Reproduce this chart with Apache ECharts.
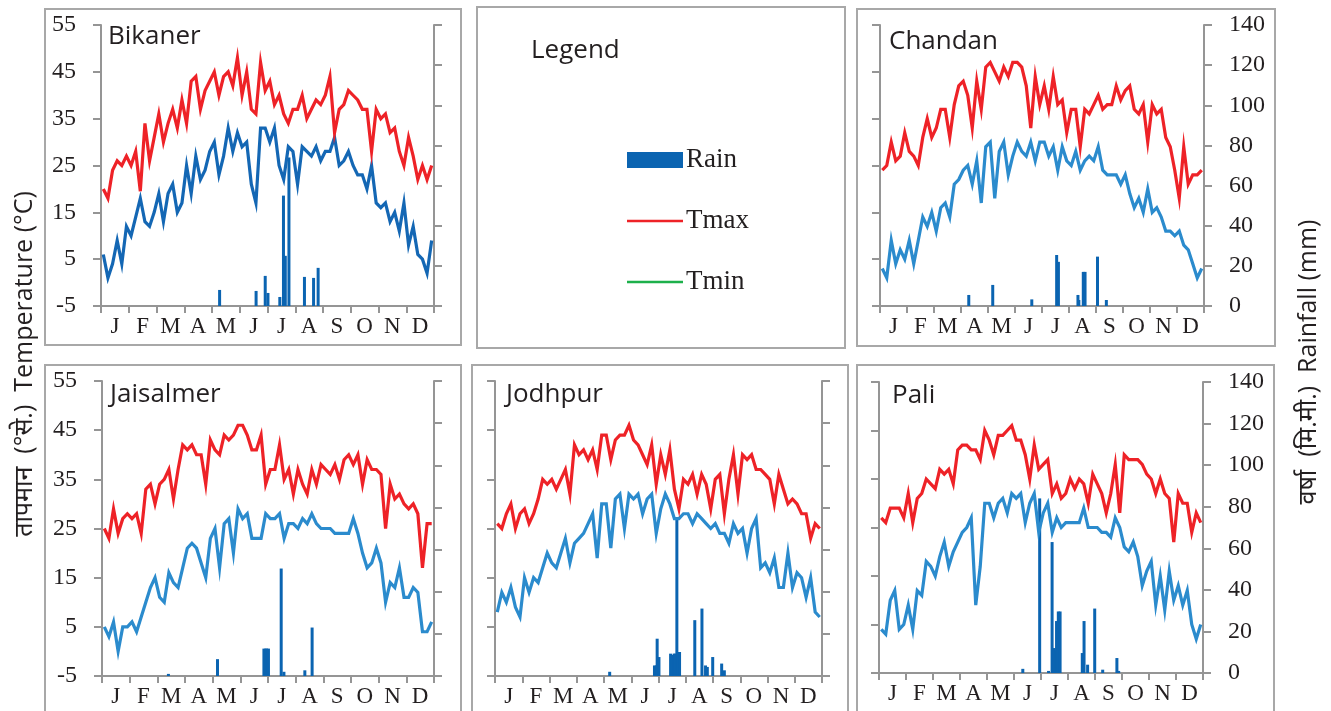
<!DOCTYPE html>
<html><head><meta charset="utf-8">
<script src="https://cdn.jsdelivr.net/npm/echarts@6/dist/echarts.min.js"></script>
<style>html,body{margin:0;padding:0;background:#fff}#c{width:1331px;height:711px}</style>
</head><body><div id="c"></div>
<script>
// ---------- data ----------
const months = ['J','F','M','A','M','J','J','A','S','O','N','D'];
const tempTicks = [-5, 5, 15, 25, 35, 45, 55];
const rainTicks = [0, 20, 40, 60, 80, 100, 120, 140];
const daysInYear = 365;

// temperatures: 6 readings per month (°C)
const bikanerTmax = [20,18,24,26,25,27, 25,28,19.5,34,26,31, 36,30,34,37,33,39, 34,43,44,37,41,43, 45,40,44,45,42,48, 40,45,37,36,47,41, 43,38,40,36,34,37, 37,40,35,37,39,38, 40,44,32,37,38,41, 40,39,37,37,28,37, 35,36,32,33,28,25, 31,27,22,25,22,25];
const bikanerTmin = [6,1,4,9,4,12, 10,14,18,13,12,15, 19,13,19,21,15,17, 25,19,27,22,24,28, 30,23,27,33,28,32, 29,30,21,17,33,33, 30,33,25,22,29,28, 21,29,28,27,29,26, 28,28,31,25,26,28, 25,23,23,20,25,17, 16,17,13,15,11,17, 8,12,6,5,2,9];
const chandanTmax = [24,25,30,26,27,32, 28,27,25,31,35,31, 33,37,37,31,38,42, 43,40,33,43,37,46, 47,45,43,46,44,47, 47,46,42,33,44,38, 42,37,44,38,39,32, 37,37,29,37,36,38, 40,37,38,38,42,39, 41,42,37,36,38,30, 38,36,37,31,29,24, 18,29,21,23,23,24];
const chandanTmin = [3,1,9,4,7,5, 9,4,9,14,12,15, 11,16,17,14,21,22, 24,25,21,26,17,29, 30,18,28,30,23,27, 30,28,27,30,26,30, 30,27,29,24,29,26, 25,28,24,26,27,26, 29,24,23,23,23,21, 23,19,16,18,15,20, 15,16,14,11,11,10, 11,8,7,4,1,3];
const jaisalmerTmax = [25,23,29,24,27,28, 27,28,24,33,34,30, 34,35,37,31,37,42, 41,42,40,40,34,43, 41,40,44,43,44,46, 46,44,41,41,44,34, 37,37,42,35,37,32, 37,34,32,37,34,38, 37,36,38,35,39,40, 38,40,34,39,37,37, 36,25,34,31,32,30, 29,30,28,17,26,26];
const jaisalmerTmin = [5,3,6,0,5,5, 6,4,7,10,13,15, 11,10,16,14,13,17, 21,22,21,18,15,23, 25,17,26,27,20,29, 27,28,23,23,23,28, 27,27,28,23,26,26, 25,27,26,28,26,25, 25,25,24,24,24,24, 27,24,20,17,18,21, 18,10,14,13,17,11, 11,13,12,4,4,6];
const jodhpurTmax = [26,25,28,30,25,28, 29,26,28,31,35,34, 35,33,35,37,32,42, 40,41,39,41,37,44, 44,39,43,44,44,46, 43,42,40,38,42,34, 40,36,41,33,29,35, 34,36,32,36,34,29, 35,36,28,35,40,32, 40,39,40,37,37,36, 35,30,36,33,30,31, 30,28,28,23,26,25];
const jodhpurTmin = [8,12,10,13,9,7, 15,12,15,14,17,20, 18,17,20,23,18,22, 23,24,26,28,19,30, 30,21,31,32,25,32, 31,32,28,31,32,24, 29,32,30,27,27,28, 28,26,28,27,26,25, 26,24,24,22,26,24, 25,20,25,27,17,18, 16,19,13,13,20,13, 16,15,11,15,8,7];
const paliTmax = [27,26,29,29,29,27, 32,26,31,32,35,34, 33,37,36,37,34,41, 42,42,41,41,39,45, 43,40,44,44,45,46, 43,43,40,35,42,37, 38,39,32,34,31,32, 35,33,35,34,30,36, 34,32,28,32,38,28, 40,39,39,39,38,36, 35,32,35,32,31,22, 32,30,30,24,28,26];
const paliTmin = [4,3,10,12,4,5, 9,4,12,11,18,17, 15,19,22,17,20,22, 24,25,27,9,17,30, 30,27,30,31,28,32, 31,32,26,30,32,24, 28,30,24,27,25,26, 26,26,26,29,25,25, 25,24,24,23,27,25, 21,20,22,19,13,16, 18,9,15,8,16,10, 13,9,12,5,2,5];

// rainfall: day of year and amount (mm)
const bikanerRainDay = [130,170,180,183,196,200,202,206,223,233,238];
const bikanerRainMm  = [8,7.5,15,6.5,4.5,55,25,74,14.5,14,19];
const chandanRainDay = [100,127,171,199,201,223,224,229,231,245,255];
const chandanRainMm  = [5.5,10.5,3.3,25.4,22,5.5,3,17,17,24.6,3];
const jaisalmerRainDay = [73,127,178,180,181,183,197,200,223,231];
const jaisalmerRainMm  = [1,8,13,13,13,13,51,2,2.7,23];
const jodhpurRainDay = [128,178,180,181,183,196,198,200,201,203,204,206,223,231,235,237,243,253,256];
const jodhpurRainMm  = [2,5,5,17.7,9,10.6,10,10.6,10.6,75,11.4,11.4,26.5,32,5,4.3,9,5.9,2.7];
const paliRainDay = [162,181,191,195,197,199,200,202,204,229,231,235,243,252,268,270];
const paliRainMm  = [2,84,1,63,12,11,25,29.6,29.6,9.6,25,4,31,1.6,7.2,1];

// ---------- styles / layout ----------
const RED = '#ee2227', DARKBLUE = '#1467b4', LIGHTBLUE = '#2b8bcd', RAIN = '#0b64b1', GREEN = '#1db04b';
const AXIS = '#959595', BOX = '#a8a8a8', TXT = '#231f20';
const SERIF = '"Liberation Serif","Times New Roman",serif';
const SANS = '"Open Sans","Noto Sans",sans-serif';

const panels = [
  {name:'Bikaner', tmax:bikanerTmax, tmin:bikanerTmin, rd:bikanerRainDay, rm:bikanerRainMm, tminColor:DARKBLUE,
   grid:{left:101, top:25, width:333, height:281}, box:[45,9,416,336], title:[108,37], leftLab:true, rightLab:false},
  {name:'Chandan', tmax:chandanTmax, tmin:chandanTmin, rd:chandanRainDay, rm:chandanRainMm, tminColor:LIGHTBLUE,
   grid:{left:880, top:25, width:324, height:281}, box:[857,9,418,337], title:[889,42], leftLab:false, rightLab:true},
  {name:'Jaisalmer', tmax:jaisalmerTmax, tmin:jaisalmerTmin, rd:jaisalmerRainDay, rm:jaisalmerRainMm, tminColor:LIGHTBLUE,
   grid:{left:102, top:381, width:332, height:295}, box:[45,365,416,360], title:[110,395], leftLab:true, rightLab:false},
  {name:'Jodhpur', tmax:jodhpurTmax, tmin:jodhpurTmin, rd:jodhpurRainDay, rm:jodhpurRainMm, tminColor:LIGHTBLUE,
   grid:{left:495, top:381, width:327, height:295}, box:[472,365,376,360], title:[506,395], leftLab:false, rightLab:false},
  {name:'Pali', tmax:paliTmax, tmin:paliTmin, rd:paliRainDay, rm:paliRainMm, tminColor:LIGHTBLUE,
   grid:{left:879, top:382, width:324, height:291}, box:[857,365,417,360], title:[892,396], leftLab:false, rightLab:true}
];

const grids = [], xAxes = [], yAxes = [], series = [], graphics = [];
const lineAxis = {show:true, onZero:false, lineStyle:{color:AXIS, width:2}};
const tickStyle = {color:AXIS, width:2};

panels.forEach((p, k) => {
  grids.push(Object.assign({containLabel:false}, p.grid));
  xAxes.push({type:'category', gridIndex:k, data:months, boundaryGap:true, position:'bottom',
    axisLine:lineAxis, axisTick:{show:true, interval:0, length:7, lineStyle:tickStyle},
    axisLabel:{interval:0, color:TXT, fontFamily:SERIF, fontSize:23, margin:9}, splitLine:{show:false}});
  xAxes.push({type:'value', gridIndex:k, min:0, max:daysInYear, show:false});
  yAxes.push({type:'value', gridIndex:k, position:'left', min:tempTicks[0], max:tempTicks[tempTicks.length-1],
    interval:tempTicks[1]-tempTicks[0], axisLine:lineAxis, axisTick:{show:true, length:8, lineStyle:tickStyle},
    axisLabel:{show:p.leftLab, color:TXT, fontFamily:SERIF, fontSize:24, margin:25}, splitLine:{show:false}});
  yAxes.push({type:'value', gridIndex:k, position:'right', min:rainTicks[0], max:rainTicks[rainTicks.length-1],
    interval:rainTicks[1]-rainTicks[0], axisLine:lineAxis, axisTick:{show:true, length:8, lineStyle:tickStyle},
    axisLabel:{show:p.rightLab, color:TXT, fontFamily:SERIF, fontSize:24, margin:25}, splitLine:{show:false}});
  const n = p.tmax.length;
  const xs = i => (i + 0.5) * daysInYear / n;
  series.push({type:'bar', name:'Rain', xAxisIndex:2*k+1, yAxisIndex:2*k+1, barWidth:3, silent:true,
    itemStyle:{color:RAIN}, data:p.rd.map((d,i)=>[d, p.rm[i]]), z:1});
  series.push({type:'line', name:'Tmin', xAxisIndex:2*k+1, yAxisIndex:2*k, symbol:'none', silent:true,
    lineStyle:{color:p.tminColor, width:3.2, join:'miter'}, itemStyle:{color:p.tminColor}, data:p.tmin.map((v,i)=>[xs(i), v]), z:2});
  series.push({type:'line', name:'Tmax', xAxisIndex:2*k+1, yAxisIndex:2*k, symbol:'none', silent:true,
    lineStyle:{color:RED, width:3.2, join:'miter'}, itemStyle:{color:RED}, data:p.tmax.map((v,i)=>[xs(i), v]), z:3});
  graphics.push({type:'rect', shape:{x:p.box[0], y:p.box[1], width:p.box[2], height:p.box[3]},
    style:{fill:'none', stroke:BOX, lineWidth:2}, silent:true, z:0});
  graphics.push({type:'text', x:p.title[0], y:p.title[1],
    style:{text:p.name, font:'26px ' + SANS, fill:TXT, textAlign:'left', textVerticalAlign:'middle'}});
});

// legend panel
graphics.push({type:'rect', shape:{x:477, y:7, width:368, height:341}, style:{fill:'none', stroke:BOX, lineWidth:2}});
graphics.push({type:'text', x:531, y:51, style:{text:'Legend', font:'26px ' + SANS, fill:TXT, textAlign:'left', textVerticalAlign:'middle'}});
graphics.push({type:'rect', shape:{x:627, y:152, width:56, height:16}, style:{fill:RAIN}});
graphics.push({type:'line', shape:{x1:627, y1:221, x2:683, y2:221}, style:{stroke:RED, lineWidth:2.5}});
graphics.push({type:'line', shape:{x1:627, y1:282, x2:683, y2:282}, style:{stroke:GREEN, lineWidth:2.5}});
[['Rain',160],['Tmax',221],['Tmin',282]].forEach(([t,y]) => graphics.push({type:'text', x:686, y:y,
  style:{text:t, font:'27px ' + SERIF, fill:TXT, textAlign:'left', textVerticalAlign:'middle'}}));

// axis titles
graphics.push({type:'text', x:25, y:364, rotation:Math.PI/2,
  style:{text:'तापमान  (°से.)  Temperature (°C)', font:'25px ' + SANS, fill:TXT, textAlign:'center', textVerticalAlign:'middle'}});
graphics.push({type:'text', x:1309, y:362, rotation:Math.PI/2,
  style:{text:'वर्षा  (मि.मी.)  Rainfall (mm)', font:'25px ' + SANS, fill:TXT, textAlign:'center', textVerticalAlign:'middle'}});

const chart = echarts.init(document.getElementById('c'), null, {renderer:'canvas'});
chart.setOption({animation:false, backgroundColor:'#fff', grid:grids, xAxis:xAxes, yAxis:yAxes, series:series, graphic:graphics});
</script></body></html>
